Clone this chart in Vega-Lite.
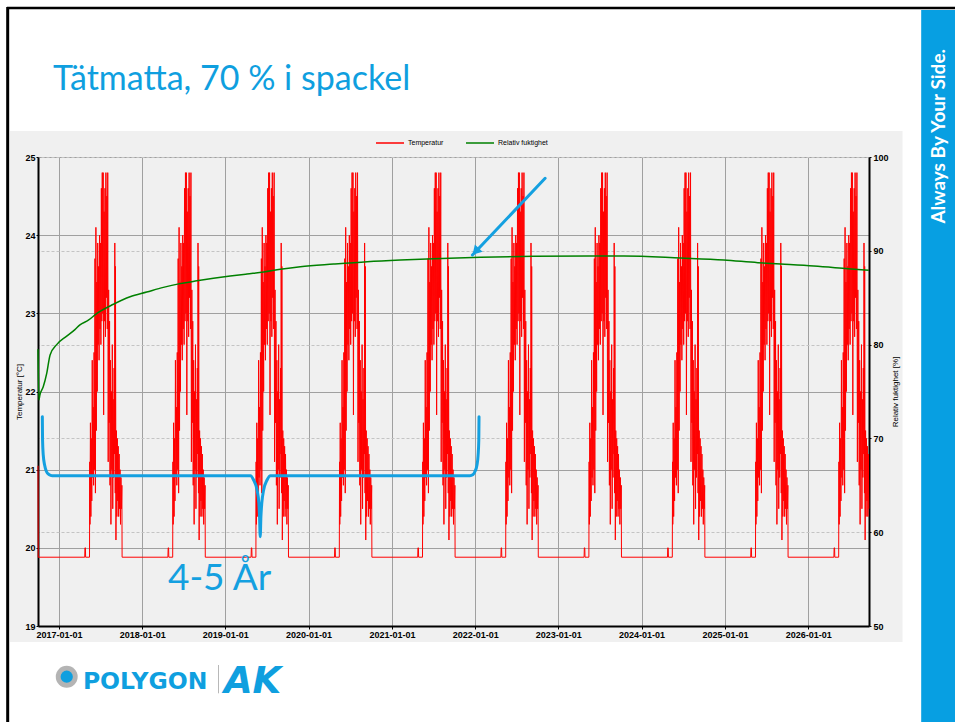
{
"$schema": "https://vega.github.io/schema/vega-lite/v6.json",
"width": 831,
"height": 469,
"autosize": {"type": "none"},
"padding": {"left": 38, "top": 157, "right": 86, "bottom": 96},
"background": "#f0f0f0",
"config": {"view": {"stroke": null}, "font": "Liberation Sans"},
"title": {"text": "Tätmatta, 70 % i spackel", "anchor": "start", "frame": "group", "font": "Lato", "fontSize": 34, "fontWeight": "normal", "color": "#0f9fdf", "baseline": "alphabetic", "offset": 0, "dx": 15, "dy": 124},
"datasets": {
"temp": [
{"d":"2016-10-01","t":21.05},{"d":"2016-10-02","t":19.88},
{"d":"2017-04-24","t":19.88},{"d":"2017-04-25","t":20.0},{"d":"2017-04-27","t":20.0},{"d":"2017-04-28","t":19.88},{"d":"2017-05-15","t":19.88},{"d":"2017-05-16","t":21.1},{"d":"2017-05-17","t":20.3},{"d":"2017-05-19","t":21.6},{"d":"2017-05-21","t":20.4},{"d":"2017-05-23","t":21.4},{"d":"2017-05-25","t":20.6},{"d":"2017-05-27","t":22.4},{"d":"2017-05-29","t":20.9},{"d":"2017-05-31","t":21.8},{"d":"2017-06-02","t":20.8},{"d":"2017-06-04","t":22.5},{"d":"2017-06-06","t":21.0},{"d":"2017-06-08","t":23.7},{"d":"2017-06-10","t":20.7},{"d":"2017-06-12","t":24.1},{"d":"2017-06-14","t":21.5},{"d":"2017-06-16","t":23.4},{"d":"2017-06-18","t":22.0},{"d":"2017-06-20","t":23.9},{"d":"2017-06-22","t":22.6},{"d":"2017-06-24","t":23.6},{"d":"2017-06-26","t":22.4},{"d":"2017-06-28","t":24.0},{"d":"2017-06-30","t":22.8},{"d":"2017-07-02","t":23.9},{"d":"2017-07-04","t":22.6},{"d":"2017-07-06","t":24.6},{"d":"2017-07-08","t":22.9},{"d":"2017-07-10","t":24.8},{"d":"2017-07-12","t":23.0},{"d":"2017-07-14","t":24.8},{"d":"2017-07-16","t":21.7},{"d":"2017-07-18","t":24.3},{"d":"2017-07-20","t":22.9},{"d":"2017-07-22","t":24.6},{"d":"2017-07-24","t":22.7},{"d":"2017-07-26","t":24.8},{"d":"2017-07-28","t":23.2},{"d":"2017-07-30","t":24.5},{"d":"2017-08-01","t":22.8},{"d":"2017-08-03","t":24.8},{"d":"2017-08-05","t":21.1},{"d":"2017-08-07","t":23.3},{"d":"2017-08-09","t":21.6},{"d":"2017-08-11","t":22.9},{"d":"2017-08-13","t":20.8},{"d":"2017-08-15","t":22.4},{"d":"2017-08-17","t":20.3},{"d":"2017-08-19","t":22.0},{"d":"2017-08-21","t":21.0},{"d":"2017-08-23","t":22.6},{"d":"2017-08-25","t":20.5},{"d":"2017-08-27","t":21.9},{"d":"2017-08-29","t":20.9},{"d":"2017-08-31","t":22.3},{"d":"2017-09-02","t":21.2},{"d":"2017-09-03","t":23.9},{"d":"2017-09-05","t":20.7},{"d":"2017-09-06","t":23.6},{"d":"2017-09-08","t":20.1},{"d":"2017-09-10","t":21.5},{"d":"2017-09-12","t":20.4},{"d":"2017-09-14","t":21.4},{"d":"2017-09-16","t":20.6},{"d":"2017-09-18","t":21.3},{"d":"2017-09-20","t":20.4},{"d":"2017-09-22","t":21.2},{"d":"2017-09-24","t":20.5},{"d":"2017-09-26","t":21.0},{"d":"2017-09-28","t":20.3},{"d":"2017-09-30","t":20.9},{"d":"2017-10-02","t":20.5},{"d":"2017-10-04","t":20.8},{"d":"2017-10-05","t":19.88},
{"d":"2018-04-24","t":19.88},{"d":"2018-04-25","t":20.0},{"d":"2018-04-27","t":20.0},{"d":"2018-04-28","t":19.88},{"d":"2018-05-15","t":19.88},{"d":"2018-05-16","t":21.1},{"d":"2018-05-17","t":20.3},{"d":"2018-05-19","t":21.6},{"d":"2018-05-21","t":20.4},{"d":"2018-05-23","t":21.4},{"d":"2018-05-25","t":20.6},{"d":"2018-05-27","t":22.4},{"d":"2018-05-29","t":20.9},{"d":"2018-05-31","t":21.8},{"d":"2018-06-02","t":20.8},{"d":"2018-06-04","t":22.5},{"d":"2018-06-06","t":21.0},{"d":"2018-06-08","t":23.7},{"d":"2018-06-10","t":20.7},{"d":"2018-06-12","t":24.1},{"d":"2018-06-14","t":21.5},{"d":"2018-06-16","t":23.4},{"d":"2018-06-18","t":22.0},{"d":"2018-06-20","t":23.9},{"d":"2018-06-22","t":22.6},{"d":"2018-06-24","t":23.6},{"d":"2018-06-26","t":22.4},{"d":"2018-06-28","t":24.0},{"d":"2018-06-30","t":22.8},{"d":"2018-07-02","t":23.9},{"d":"2018-07-04","t":22.6},{"d":"2018-07-06","t":24.6},{"d":"2018-07-08","t":22.9},{"d":"2018-07-10","t":24.8},{"d":"2018-07-12","t":23.0},{"d":"2018-07-14","t":24.8},{"d":"2018-07-16","t":21.7},{"d":"2018-07-18","t":24.3},{"d":"2018-07-20","t":22.9},{"d":"2018-07-22","t":24.6},{"d":"2018-07-24","t":22.7},{"d":"2018-07-26","t":24.8},{"d":"2018-07-28","t":23.2},{"d":"2018-07-30","t":24.5},{"d":"2018-08-01","t":22.8},{"d":"2018-08-03","t":24.8},{"d":"2018-08-05","t":21.1},{"d":"2018-08-07","t":23.3},{"d":"2018-08-09","t":21.6},{"d":"2018-08-11","t":22.9},{"d":"2018-08-13","t":20.8},{"d":"2018-08-15","t":22.4},{"d":"2018-08-17","t":20.3},{"d":"2018-08-19","t":22.0},{"d":"2018-08-21","t":21.0},{"d":"2018-08-23","t":22.6},{"d":"2018-08-25","t":20.5},{"d":"2018-08-27","t":21.9},{"d":"2018-08-29","t":20.9},{"d":"2018-08-31","t":22.3},{"d":"2018-09-02","t":21.2},{"d":"2018-09-03","t":23.9},{"d":"2018-09-05","t":20.7},{"d":"2018-09-06","t":23.6},{"d":"2018-09-08","t":20.1},{"d":"2018-09-10","t":21.5},{"d":"2018-09-12","t":20.4},{"d":"2018-09-14","t":21.4},{"d":"2018-09-16","t":20.6},{"d":"2018-09-18","t":21.3},{"d":"2018-09-20","t":20.4},{"d":"2018-09-22","t":21.2},{"d":"2018-09-24","t":20.5},{"d":"2018-09-26","t":21.0},{"d":"2018-09-28","t":20.3},{"d":"2018-09-30","t":20.9},{"d":"2018-10-02","t":20.5},{"d":"2018-10-04","t":20.8},{"d":"2018-10-05","t":19.88},
{"d":"2019-04-24","t":19.88},{"d":"2019-04-25","t":20.0},{"d":"2019-04-27","t":20.0},{"d":"2019-04-28","t":19.88},{"d":"2019-05-15","t":19.88},{"d":"2019-05-16","t":21.1},{"d":"2019-05-17","t":20.3},{"d":"2019-05-19","t":21.6},{"d":"2019-05-21","t":20.4},{"d":"2019-05-23","t":21.4},{"d":"2019-05-25","t":20.6},{"d":"2019-05-27","t":22.4},{"d":"2019-05-29","t":20.9},{"d":"2019-05-31","t":21.8},{"d":"2019-06-02","t":20.8},{"d":"2019-06-04","t":22.5},{"d":"2019-06-06","t":21.0},{"d":"2019-06-08","t":23.7},{"d":"2019-06-10","t":20.7},{"d":"2019-06-12","t":24.1},{"d":"2019-06-14","t":21.5},{"d":"2019-06-16","t":23.4},{"d":"2019-06-18","t":22.0},{"d":"2019-06-20","t":23.9},{"d":"2019-06-22","t":22.6},{"d":"2019-06-24","t":23.6},{"d":"2019-06-26","t":22.4},{"d":"2019-06-28","t":24.0},{"d":"2019-06-30","t":22.8},{"d":"2019-07-02","t":23.9},{"d":"2019-07-04","t":22.6},{"d":"2019-07-06","t":24.6},{"d":"2019-07-08","t":22.9},{"d":"2019-07-10","t":24.8},{"d":"2019-07-12","t":23.0},{"d":"2019-07-14","t":24.8},{"d":"2019-07-16","t":21.7},{"d":"2019-07-18","t":24.3},{"d":"2019-07-20","t":22.9},{"d":"2019-07-22","t":24.6},{"d":"2019-07-24","t":22.7},{"d":"2019-07-26","t":24.8},{"d":"2019-07-28","t":23.2},{"d":"2019-07-30","t":24.5},{"d":"2019-08-01","t":22.8},{"d":"2019-08-03","t":24.8},{"d":"2019-08-05","t":21.1},{"d":"2019-08-07","t":23.3},{"d":"2019-08-09","t":21.6},{"d":"2019-08-11","t":22.9},{"d":"2019-08-13","t":20.8},{"d":"2019-08-15","t":22.4},{"d":"2019-08-17","t":20.3},{"d":"2019-08-19","t":22.0},{"d":"2019-08-21","t":21.0},{"d":"2019-08-23","t":22.6},{"d":"2019-08-25","t":20.5},{"d":"2019-08-27","t":21.9},{"d":"2019-08-29","t":20.9},{"d":"2019-08-31","t":22.3},{"d":"2019-09-02","t":21.2},{"d":"2019-09-03","t":23.9},{"d":"2019-09-05","t":20.7},{"d":"2019-09-06","t":23.6},{"d":"2019-09-08","t":20.1},{"d":"2019-09-10","t":21.5},{"d":"2019-09-12","t":20.4},{"d":"2019-09-14","t":21.4},{"d":"2019-09-16","t":20.6},{"d":"2019-09-18","t":21.3},{"d":"2019-09-20","t":20.4},{"d":"2019-09-22","t":21.2},{"d":"2019-09-24","t":20.5},{"d":"2019-09-26","t":21.0},{"d":"2019-09-28","t":20.3},{"d":"2019-09-30","t":20.9},{"d":"2019-10-02","t":20.5},{"d":"2019-10-04","t":20.8},{"d":"2019-10-05","t":19.88},
{"d":"2020-04-24","t":19.88},{"d":"2020-04-25","t":20.0},{"d":"2020-04-27","t":20.0},{"d":"2020-04-28","t":19.88},{"d":"2020-05-15","t":19.88},{"d":"2020-05-16","t":21.1},{"d":"2020-05-17","t":20.3},{"d":"2020-05-19","t":21.6},{"d":"2020-05-21","t":20.4},{"d":"2020-05-23","t":21.4},{"d":"2020-05-25","t":20.6},{"d":"2020-05-27","t":22.4},{"d":"2020-05-29","t":20.9},{"d":"2020-05-31","t":21.8},{"d":"2020-06-02","t":20.8},{"d":"2020-06-04","t":22.5},{"d":"2020-06-06","t":21.0},{"d":"2020-06-08","t":23.7},{"d":"2020-06-10","t":20.7},{"d":"2020-06-12","t":24.1},{"d":"2020-06-14","t":21.5},{"d":"2020-06-16","t":23.4},{"d":"2020-06-18","t":22.0},{"d":"2020-06-20","t":23.9},{"d":"2020-06-22","t":22.6},{"d":"2020-06-24","t":23.6},{"d":"2020-06-26","t":22.4},{"d":"2020-06-28","t":24.0},{"d":"2020-06-30","t":22.8},{"d":"2020-07-02","t":23.9},{"d":"2020-07-04","t":22.6},{"d":"2020-07-06","t":24.6},{"d":"2020-07-08","t":22.9},{"d":"2020-07-10","t":24.8},{"d":"2020-07-12","t":23.0},{"d":"2020-07-14","t":24.8},{"d":"2020-07-16","t":21.7},{"d":"2020-07-18","t":24.3},{"d":"2020-07-20","t":22.9},{"d":"2020-07-22","t":24.6},{"d":"2020-07-24","t":22.7},{"d":"2020-07-26","t":24.8},{"d":"2020-07-28","t":23.2},{"d":"2020-07-30","t":24.5},{"d":"2020-08-01","t":22.8},{"d":"2020-08-03","t":24.8},{"d":"2020-08-05","t":21.1},{"d":"2020-08-07","t":23.3},{"d":"2020-08-09","t":21.6},{"d":"2020-08-11","t":22.9},{"d":"2020-08-13","t":20.8},{"d":"2020-08-15","t":22.4},{"d":"2020-08-17","t":20.3},{"d":"2020-08-19","t":22.0},{"d":"2020-08-21","t":21.0},{"d":"2020-08-23","t":22.6},{"d":"2020-08-25","t":20.5},{"d":"2020-08-27","t":21.9},{"d":"2020-08-29","t":20.9},{"d":"2020-08-31","t":22.3},{"d":"2020-09-02","t":21.2},{"d":"2020-09-03","t":23.9},{"d":"2020-09-05","t":20.7},{"d":"2020-09-06","t":23.6},{"d":"2020-09-08","t":20.1},{"d":"2020-09-10","t":21.5},{"d":"2020-09-12","t":20.4},{"d":"2020-09-14","t":21.4},{"d":"2020-09-16","t":20.6},{"d":"2020-09-18","t":21.3},{"d":"2020-09-20","t":20.4},{"d":"2020-09-22","t":21.2},{"d":"2020-09-24","t":20.5},{"d":"2020-09-26","t":21.0},{"d":"2020-09-28","t":20.3},{"d":"2020-09-30","t":20.9},{"d":"2020-10-02","t":20.5},{"d":"2020-10-04","t":20.8},{"d":"2020-10-05","t":19.88},
{"d":"2021-04-24","t":19.88},{"d":"2021-04-25","t":20.0},{"d":"2021-04-27","t":20.0},{"d":"2021-04-28","t":19.88},{"d":"2021-05-15","t":19.88},{"d":"2021-05-16","t":21.1},{"d":"2021-05-17","t":20.3},{"d":"2021-05-19","t":21.6},{"d":"2021-05-21","t":20.4},{"d":"2021-05-23","t":21.4},{"d":"2021-05-25","t":20.6},{"d":"2021-05-27","t":22.4},{"d":"2021-05-29","t":20.9},{"d":"2021-05-31","t":21.8},{"d":"2021-06-02","t":20.8},{"d":"2021-06-04","t":22.5},{"d":"2021-06-06","t":21.0},{"d":"2021-06-08","t":23.7},{"d":"2021-06-10","t":20.7},{"d":"2021-06-12","t":24.1},{"d":"2021-06-14","t":21.5},{"d":"2021-06-16","t":23.4},{"d":"2021-06-18","t":22.0},{"d":"2021-06-20","t":23.9},{"d":"2021-06-22","t":22.6},{"d":"2021-06-24","t":23.6},{"d":"2021-06-26","t":22.4},{"d":"2021-06-28","t":24.0},{"d":"2021-06-30","t":22.8},{"d":"2021-07-02","t":23.9},{"d":"2021-07-04","t":22.6},{"d":"2021-07-06","t":24.6},{"d":"2021-07-08","t":22.9},{"d":"2021-07-10","t":24.8},{"d":"2021-07-12","t":23.0},{"d":"2021-07-14","t":24.8},{"d":"2021-07-16","t":21.7},{"d":"2021-07-18","t":24.3},{"d":"2021-07-20","t":22.9},{"d":"2021-07-22","t":24.6},{"d":"2021-07-24","t":22.7},{"d":"2021-07-26","t":24.8},{"d":"2021-07-28","t":23.2},{"d":"2021-07-30","t":24.5},{"d":"2021-08-01","t":22.8},{"d":"2021-08-03","t":24.8},{"d":"2021-08-05","t":21.1},{"d":"2021-08-07","t":23.3},{"d":"2021-08-09","t":21.6},{"d":"2021-08-11","t":22.9},{"d":"2021-08-13","t":20.8},{"d":"2021-08-15","t":22.4},{"d":"2021-08-17","t":20.3},{"d":"2021-08-19","t":22.0},{"d":"2021-08-21","t":21.0},{"d":"2021-08-23","t":22.6},{"d":"2021-08-25","t":20.5},{"d":"2021-08-27","t":21.9},{"d":"2021-08-29","t":20.9},{"d":"2021-08-31","t":22.3},{"d":"2021-09-02","t":21.2},{"d":"2021-09-03","t":23.9},{"d":"2021-09-05","t":20.7},{"d":"2021-09-06","t":23.6},{"d":"2021-09-08","t":20.1},{"d":"2021-09-10","t":21.5},{"d":"2021-09-12","t":20.4},{"d":"2021-09-14","t":21.4},{"d":"2021-09-16","t":20.6},{"d":"2021-09-18","t":21.3},{"d":"2021-09-20","t":20.4},{"d":"2021-09-22","t":21.2},{"d":"2021-09-24","t":20.5},{"d":"2021-09-26","t":21.0},{"d":"2021-09-28","t":20.3},{"d":"2021-09-30","t":20.9},{"d":"2021-10-02","t":20.5},{"d":"2021-10-04","t":20.8},{"d":"2021-10-05","t":19.88},
{"d":"2022-04-24","t":19.88},{"d":"2022-04-25","t":20.0},{"d":"2022-04-27","t":20.0},{"d":"2022-04-28","t":19.88},{"d":"2022-05-15","t":19.88},{"d":"2022-05-16","t":21.1},{"d":"2022-05-17","t":20.3},{"d":"2022-05-19","t":21.6},{"d":"2022-05-21","t":20.4},{"d":"2022-05-23","t":21.4},{"d":"2022-05-25","t":20.6},{"d":"2022-05-27","t":22.4},{"d":"2022-05-29","t":20.9},{"d":"2022-05-31","t":21.8},{"d":"2022-06-02","t":20.8},{"d":"2022-06-04","t":22.5},{"d":"2022-06-06","t":21.0},{"d":"2022-06-08","t":23.7},{"d":"2022-06-10","t":20.7},{"d":"2022-06-12","t":24.1},{"d":"2022-06-14","t":21.5},{"d":"2022-06-16","t":23.4},{"d":"2022-06-18","t":22.0},{"d":"2022-06-20","t":23.9},{"d":"2022-06-22","t":22.6},{"d":"2022-06-24","t":23.6},{"d":"2022-06-26","t":22.4},{"d":"2022-06-28","t":24.0},{"d":"2022-06-30","t":22.8},{"d":"2022-07-02","t":23.9},{"d":"2022-07-04","t":22.6},{"d":"2022-07-06","t":24.6},{"d":"2022-07-08","t":22.9},{"d":"2022-07-10","t":24.8},{"d":"2022-07-12","t":23.0},{"d":"2022-07-14","t":24.8},{"d":"2022-07-16","t":21.7},{"d":"2022-07-18","t":24.3},{"d":"2022-07-20","t":22.9},{"d":"2022-07-22","t":24.6},{"d":"2022-07-24","t":22.7},{"d":"2022-07-26","t":24.8},{"d":"2022-07-28","t":23.2},{"d":"2022-07-30","t":24.5},{"d":"2022-08-01","t":22.8},{"d":"2022-08-03","t":24.8},{"d":"2022-08-05","t":21.1},{"d":"2022-08-07","t":23.3},{"d":"2022-08-09","t":21.6},{"d":"2022-08-11","t":22.9},{"d":"2022-08-13","t":20.8},{"d":"2022-08-15","t":22.4},{"d":"2022-08-17","t":20.3},{"d":"2022-08-19","t":22.0},{"d":"2022-08-21","t":21.0},{"d":"2022-08-23","t":22.6},{"d":"2022-08-25","t":20.5},{"d":"2022-08-27","t":21.9},{"d":"2022-08-29","t":20.9},{"d":"2022-08-31","t":22.3},{"d":"2022-09-02","t":21.2},{"d":"2022-09-03","t":23.9},{"d":"2022-09-05","t":20.7},{"d":"2022-09-06","t":23.6},{"d":"2022-09-08","t":20.1},{"d":"2022-09-10","t":21.5},{"d":"2022-09-12","t":20.4},{"d":"2022-09-14","t":21.4},{"d":"2022-09-16","t":20.6},{"d":"2022-09-18","t":21.3},{"d":"2022-09-20","t":20.4},{"d":"2022-09-22","t":21.2},{"d":"2022-09-24","t":20.5},{"d":"2022-09-26","t":21.0},{"d":"2022-09-28","t":20.3},{"d":"2022-09-30","t":20.9},{"d":"2022-10-02","t":20.5},{"d":"2022-10-04","t":20.8},{"d":"2022-10-05","t":19.88},
{"d":"2023-04-24","t":19.88},{"d":"2023-04-25","t":20.0},{"d":"2023-04-27","t":20.0},{"d":"2023-04-28","t":19.88},{"d":"2023-05-15","t":19.88},{"d":"2023-05-16","t":21.1},{"d":"2023-05-17","t":20.3},{"d":"2023-05-19","t":21.6},{"d":"2023-05-21","t":20.4},{"d":"2023-05-23","t":21.4},{"d":"2023-05-25","t":20.6},{"d":"2023-05-27","t":22.4},{"d":"2023-05-29","t":20.9},{"d":"2023-05-31","t":21.8},{"d":"2023-06-02","t":20.8},{"d":"2023-06-04","t":22.5},{"d":"2023-06-06","t":21.0},{"d":"2023-06-08","t":23.7},{"d":"2023-06-10","t":20.7},{"d":"2023-06-12","t":24.1},{"d":"2023-06-14","t":21.5},{"d":"2023-06-16","t":23.4},{"d":"2023-06-18","t":22.0},{"d":"2023-06-20","t":23.9},{"d":"2023-06-22","t":22.6},{"d":"2023-06-24","t":23.6},{"d":"2023-06-26","t":22.4},{"d":"2023-06-28","t":24.0},{"d":"2023-06-30","t":22.8},{"d":"2023-07-02","t":23.9},{"d":"2023-07-04","t":22.6},{"d":"2023-07-06","t":24.6},{"d":"2023-07-08","t":22.9},{"d":"2023-07-10","t":24.8},{"d":"2023-07-12","t":23.0},{"d":"2023-07-14","t":24.8},{"d":"2023-07-16","t":21.7},{"d":"2023-07-18","t":24.3},{"d":"2023-07-20","t":22.9},{"d":"2023-07-22","t":24.6},{"d":"2023-07-24","t":22.7},{"d":"2023-07-26","t":24.8},{"d":"2023-07-28","t":23.2},{"d":"2023-07-30","t":24.5},{"d":"2023-08-01","t":22.8},{"d":"2023-08-03","t":24.8},{"d":"2023-08-05","t":21.1},{"d":"2023-08-07","t":23.3},{"d":"2023-08-09","t":21.6},{"d":"2023-08-11","t":22.9},{"d":"2023-08-13","t":20.8},{"d":"2023-08-15","t":22.4},{"d":"2023-08-17","t":20.3},{"d":"2023-08-19","t":22.0},{"d":"2023-08-21","t":21.0},{"d":"2023-08-23","t":22.6},{"d":"2023-08-25","t":20.5},{"d":"2023-08-27","t":21.9},{"d":"2023-08-29","t":20.9},{"d":"2023-08-31","t":22.3},{"d":"2023-09-02","t":21.2},{"d":"2023-09-03","t":23.9},{"d":"2023-09-05","t":20.7},{"d":"2023-09-06","t":23.6},{"d":"2023-09-08","t":20.1},{"d":"2023-09-10","t":21.5},{"d":"2023-09-12","t":20.4},{"d":"2023-09-14","t":21.4},{"d":"2023-09-16","t":20.6},{"d":"2023-09-18","t":21.3},{"d":"2023-09-20","t":20.4},{"d":"2023-09-22","t":21.2},{"d":"2023-09-24","t":20.5},{"d":"2023-09-26","t":21.0},{"d":"2023-09-28","t":20.3},{"d":"2023-09-30","t":20.9},{"d":"2023-10-02","t":20.5},{"d":"2023-10-04","t":20.8},{"d":"2023-10-05","t":19.88},
{"d":"2024-04-24","t":19.88},{"d":"2024-04-25","t":20.0},{"d":"2024-04-27","t":20.0},{"d":"2024-04-28","t":19.88},{"d":"2024-05-15","t":19.88},{"d":"2024-05-16","t":21.1},{"d":"2024-05-17","t":20.3},{"d":"2024-05-19","t":21.6},{"d":"2024-05-21","t":20.4},{"d":"2024-05-23","t":21.4},{"d":"2024-05-25","t":20.6},{"d":"2024-05-27","t":22.4},{"d":"2024-05-29","t":20.9},{"d":"2024-05-31","t":21.8},{"d":"2024-06-02","t":20.8},{"d":"2024-06-04","t":22.5},{"d":"2024-06-06","t":21.0},{"d":"2024-06-08","t":23.7},{"d":"2024-06-10","t":20.7},{"d":"2024-06-12","t":24.1},{"d":"2024-06-14","t":21.5},{"d":"2024-06-16","t":23.4},{"d":"2024-06-18","t":22.0},{"d":"2024-06-20","t":23.9},{"d":"2024-06-22","t":22.6},{"d":"2024-06-24","t":23.6},{"d":"2024-06-26","t":22.4},{"d":"2024-06-28","t":24.0},{"d":"2024-06-30","t":22.8},{"d":"2024-07-02","t":23.9},{"d":"2024-07-04","t":22.6},{"d":"2024-07-06","t":24.6},{"d":"2024-07-08","t":22.9},{"d":"2024-07-10","t":24.8},{"d":"2024-07-12","t":23.0},{"d":"2024-07-14","t":24.8},{"d":"2024-07-16","t":21.7},{"d":"2024-07-18","t":24.3},{"d":"2024-07-20","t":22.9},{"d":"2024-07-22","t":24.6},{"d":"2024-07-24","t":22.7},{"d":"2024-07-26","t":24.8},{"d":"2024-07-28","t":23.2},{"d":"2024-07-30","t":24.5},{"d":"2024-08-01","t":22.8},{"d":"2024-08-03","t":24.8},{"d":"2024-08-05","t":21.1},{"d":"2024-08-07","t":23.3},{"d":"2024-08-09","t":21.6},{"d":"2024-08-11","t":22.9},{"d":"2024-08-13","t":20.8},{"d":"2024-08-15","t":22.4},{"d":"2024-08-17","t":20.3},{"d":"2024-08-19","t":22.0},{"d":"2024-08-21","t":21.0},{"d":"2024-08-23","t":22.6},{"d":"2024-08-25","t":20.5},{"d":"2024-08-27","t":21.9},{"d":"2024-08-29","t":20.9},{"d":"2024-08-31","t":22.3},{"d":"2024-09-02","t":21.2},{"d":"2024-09-03","t":23.9},{"d":"2024-09-05","t":20.7},{"d":"2024-09-06","t":23.6},{"d":"2024-09-08","t":20.1},{"d":"2024-09-10","t":21.5},{"d":"2024-09-12","t":20.4},{"d":"2024-09-14","t":21.4},{"d":"2024-09-16","t":20.6},{"d":"2024-09-18","t":21.3},{"d":"2024-09-20","t":20.4},{"d":"2024-09-22","t":21.2},{"d":"2024-09-24","t":20.5},{"d":"2024-09-26","t":21.0},{"d":"2024-09-28","t":20.3},{"d":"2024-09-30","t":20.9},{"d":"2024-10-02","t":20.5},{"d":"2024-10-04","t":20.8},{"d":"2024-10-05","t":19.88},
{"d":"2025-04-24","t":19.88},{"d":"2025-04-25","t":20.0},{"d":"2025-04-27","t":20.0},{"d":"2025-04-28","t":19.88},{"d":"2025-05-15","t":19.88},{"d":"2025-05-16","t":21.1},{"d":"2025-05-17","t":20.3},{"d":"2025-05-19","t":21.6},{"d":"2025-05-21","t":20.4},{"d":"2025-05-23","t":21.4},{"d":"2025-05-25","t":20.6},{"d":"2025-05-27","t":22.4},{"d":"2025-05-29","t":20.9},{"d":"2025-05-31","t":21.8},{"d":"2025-06-02","t":20.8},{"d":"2025-06-04","t":22.5},{"d":"2025-06-06","t":21.0},{"d":"2025-06-08","t":23.7},{"d":"2025-06-10","t":20.7},{"d":"2025-06-12","t":24.1},{"d":"2025-06-14","t":21.5},{"d":"2025-06-16","t":23.4},{"d":"2025-06-18","t":22.0},{"d":"2025-06-20","t":23.9},{"d":"2025-06-22","t":22.6},{"d":"2025-06-24","t":23.6},{"d":"2025-06-26","t":22.4},{"d":"2025-06-28","t":24.0},{"d":"2025-06-30","t":22.8},{"d":"2025-07-02","t":23.9},{"d":"2025-07-04","t":22.6},{"d":"2025-07-06","t":24.6},{"d":"2025-07-08","t":22.9},{"d":"2025-07-10","t":24.8},{"d":"2025-07-12","t":23.0},{"d":"2025-07-14","t":24.8},{"d":"2025-07-16","t":21.7},{"d":"2025-07-18","t":24.3},{"d":"2025-07-20","t":22.9},{"d":"2025-07-22","t":24.6},{"d":"2025-07-24","t":22.7},{"d":"2025-07-26","t":24.8},{"d":"2025-07-28","t":23.2},{"d":"2025-07-30","t":24.5},{"d":"2025-08-01","t":22.8},{"d":"2025-08-03","t":24.8},{"d":"2025-08-05","t":21.1},{"d":"2025-08-07","t":23.3},{"d":"2025-08-09","t":21.6},{"d":"2025-08-11","t":22.9},{"d":"2025-08-13","t":20.8},{"d":"2025-08-15","t":22.4},{"d":"2025-08-17","t":20.3},{"d":"2025-08-19","t":22.0},{"d":"2025-08-21","t":21.0},{"d":"2025-08-23","t":22.6},{"d":"2025-08-25","t":20.5},{"d":"2025-08-27","t":21.9},{"d":"2025-08-29","t":20.9},{"d":"2025-08-31","t":22.3},{"d":"2025-09-02","t":21.2},{"d":"2025-09-03","t":23.9},{"d":"2025-09-05","t":20.7},{"d":"2025-09-06","t":23.6},{"d":"2025-09-08","t":20.1},{"d":"2025-09-10","t":21.5},{"d":"2025-09-12","t":20.4},{"d":"2025-09-14","t":21.4},{"d":"2025-09-16","t":20.6},{"d":"2025-09-18","t":21.3},{"d":"2025-09-20","t":20.4},{"d":"2025-09-22","t":21.2},{"d":"2025-09-24","t":20.5},{"d":"2025-09-26","t":21.0},{"d":"2025-09-28","t":20.3},{"d":"2025-09-30","t":20.9},{"d":"2025-10-02","t":20.5},{"d":"2025-10-04","t":20.8},{"d":"2025-10-05","t":19.88},
{"d":"2026-04-24","t":19.88},{"d":"2026-04-25","t":20.0},{"d":"2026-04-27","t":20.0},{"d":"2026-04-28","t":19.88},{"d":"2026-05-15","t":19.88},{"d":"2026-05-16","t":21.1},{"d":"2026-05-17","t":20.3},{"d":"2026-05-19","t":21.6},{"d":"2026-05-21","t":20.4},{"d":"2026-05-23","t":21.4},{"d":"2026-05-25","t":20.6},{"d":"2026-05-27","t":22.4},{"d":"2026-05-29","t":20.9},{"d":"2026-05-31","t":21.8},{"d":"2026-06-02","t":20.8},{"d":"2026-06-04","t":22.5},{"d":"2026-06-06","t":21.0},{"d":"2026-06-08","t":23.7},{"d":"2026-06-10","t":20.7},{"d":"2026-06-12","t":24.1},{"d":"2026-06-14","t":21.5},{"d":"2026-06-16","t":23.4},{"d":"2026-06-18","t":22.0},{"d":"2026-06-20","t":23.9},{"d":"2026-06-22","t":22.6},{"d":"2026-06-24","t":23.6},{"d":"2026-06-26","t":22.4},{"d":"2026-06-28","t":24.0},{"d":"2026-06-30","t":22.8},{"d":"2026-07-02","t":23.9},{"d":"2026-07-04","t":22.6},{"d":"2026-07-06","t":24.6},{"d":"2026-07-08","t":22.9},{"d":"2026-07-10","t":24.8},{"d":"2026-07-12","t":23.0},{"d":"2026-07-14","t":24.8},{"d":"2026-07-16","t":21.7},{"d":"2026-07-18","t":24.3},{"d":"2026-07-20","t":22.9},{"d":"2026-07-22","t":24.6},{"d":"2026-07-24","t":22.7},{"d":"2026-07-26","t":24.8},{"d":"2026-07-28","t":23.2},{"d":"2026-07-30","t":24.5},{"d":"2026-08-01","t":22.8},{"d":"2026-08-03","t":24.8},{"d":"2026-08-05","t":21.1},{"d":"2026-08-07","t":23.3},{"d":"2026-08-09","t":21.6},{"d":"2026-08-11","t":22.9},{"d":"2026-08-13","t":20.8},{"d":"2026-08-15","t":22.4},{"d":"2026-08-17","t":20.3},{"d":"2026-08-19","t":22.0},{"d":"2026-08-21","t":21.0},{"d":"2026-08-23","t":22.6},{"d":"2026-08-25","t":20.5},{"d":"2026-08-27","t":21.9},{"d":"2026-08-29","t":20.9},{"d":"2026-08-31","t":22.3},{"d":"2026-09-02","t":21.2},{"d":"2026-09-03","t":23.9},{"d":"2026-09-05","t":20.7},{"d":"2026-09-06","t":23.6},{"d":"2026-09-08","t":20.1},{"d":"2026-09-10","t":21.5},{"d":"2026-09-12","t":20.4},{"d":"2026-09-14","t":21.4},{"d":"2026-09-16","t":20.6},{"d":"2026-09-18","t":21.3},{"d":"2026-09-20","t":20.4},{"d":"2026-09-22","t":21.2},{"d":"2026-09-24","t":20.5}
],
"rh": [
{"d":"2016-10-01","h":79.5},{"d":"2016-10-05","h":74.1},{"d":"2016-10-09","h":74.6},{"d":"2016-10-24","h":75.5},{"d":"2016-11-08","h":76.9},{"d":"2016-11-23","h":78.9},{"d":"2016-12-22","h":80.0},{"d":"2017-02-04","h":80.9},{"d":"2017-03-12","h":81.6},{"d":"2017-04-03","h":82.1},{"d":"2017-05-10","h":82.6},{"d":"2017-06-15","h":83.3},{"d":"2017-08-28","h":84.3},{"d":"2017-11-09","h":85.1},{"d":"2018-01-21","h":85.6},{"d":"2018-04-04","h":86.1},{"d":"2018-06-16","h":86.5},{"d":"2018-08-29","h":86.8},{"d":"2018-11-10","h":87.07},{"d":"2019-01-22","h":87.31},{"d":"2019-04-06","h":87.53},{"d":"2019-06-18","h":87.74},{"d":"2019-08-30","h":88.03},{"d":"2019-11-26","h":88.31},{"d":"2020-04-20","h":88.59},{"d":"2020-09-14","h":88.84},{"d":"2021-02-07","h":89.02},{"d":"2021-07-03","h":89.16},{"d":"2022-01-25","h":89.31},{"d":"2022-09-14","h":89.41},{"d":"2023-05-23","h":89.45},{"d":"2023-10-15","h":89.45},{"d":"2024-06-21","h":89.23},{"d":"2024-12-27","h":89.02},{"d":"2025-05-25","h":88.73},{"d":"2025-09-03","h":88.59},{"d":"2026-01-26","h":88.38},{"d":"2026-06-25","h":88.09},{"d":"2026-09-24","h":87.92}
],
"bracket": [
{"d":"2016-10-20","t":21.678},{"d":"2016-10-21","t":21.38},{"d":"2016-10-24","t":21.188},{"d":"2016-10-30","t":21.06},{"d":"2016-11-07","t":20.977},{"d":"2016-11-18","t":20.938},{"d":"2016-12-02","t":20.923},{"d":"2019-04-21","t":20.923},{"d":"2019-05-05","t":20.868},{"d":"2019-05-20","t":20.74},{"d":"2019-05-28","t":20.574},{"d":"2019-05-31","t":20.398},{"d":"2019-06-03","t":20.142},{"d":"2019-06-06","t":20.398},{"d":"2019-06-10","t":20.574},{"d":"2019-06-18","t":20.74},{"d":"2019-07-03","t":20.868},{"d":"2019-07-18","t":20.923},{"d":"2021-12-09","t":20.923},{"d":"2021-12-23","t":20.938},{"d":"2021-12-31","t":20.977},{"d":"2022-01-09","t":21.06},{"d":"2022-01-14","t":21.188},{"d":"2022-01-17","t":21.38},{"d":"2022-01-18","t":21.678}
],
"arrow": [{"d":"2022-11-04","t":24.728},{"d":"2021-12-20","t":23.746}],
"arrowhead": [{"d":"2022-01-03","t":23.791}]
},
"layer": [
{
"layer": [
{"data": {"values": [{}]}, "mark": {"type": "rect", "color": "#ffffff"},
 "encoding": {
  "x": {"datum": {"year": 2016, "month": 1, "date": 1}, "type": "temporal", "scale": {"domain": [{"year": 2016, "month": 10, "date": 1}, {"year": 2026, "month": 9, "date": 25}]}},
  "x2": {"datum": {"year": 2028, "month": 6, "date": 1}},
  "y": {"datum": 27.01, "type": "quantitative", "scale": {"domain": [19, 25], "nice": false, "zero": false}},
  "y2": {"datum": 25.333}}},
{"data": {"values": [{}]}, "mark": {"type": "rect", "color": "#ffffff"},
 "encoding": {
  "x": {"datum": {"year": 2016, "month": 1, "date": 1}, "type": "temporal"},
  "x2": {"datum": {"year": 2028, "month": 6, "date": 1}},
  "y": {"datum": 18.795, "type": "quantitative"},
  "y2": {"datum": 17.0}}},
{"data": {"values": [{}]}, "mark": {"type": "rect", "color": "#ffffff"},
 "encoding": {
  "x": {"datum": {"year": 2016, "month": 1, "date": 1}, "type": "temporal"},
  "x2": {"datum": {"year": 2016, "month": 5, "date": 31}},
  "y": {"datum": 25.34, "type": "quantitative"},
  "y2": {"datum": 18.79}}},
{"data": {"values": [{}]}, "mark": {"type": "rect", "color": "#ffffff"},
 "encoding": {
  "x": {"datum": {"year": 2027, "month": 2, "date": 19}, "type": "temporal"},
  "x2": {"datum": {"year": 2028, "month": 6, "date": 1}},
  "y": {"datum": 25.34, "type": "quantitative"},
  "y2": {"datum": 18.79}}},
{"data": {"values": [{}]}, "mark": {"type": "rect", "color": "#079fe2"},
 "encoding": {
  "x": {"datum": {"year": 2027, "month": 5, "date": 12}, "type": "temporal"},
  "x2": {"datum": {"year": 2028, "month": 6, "date": 1}},
  "y": {"datum": 26.88, "type": "quantitative"},
  "y2": {"datum": 17.0}}},
{"data": {"values": [{}]}, "mark": {"type": "rule", "color": "#000000", "strokeWidth": 2.5},
 "encoding": {
  "x": {"datum": {"year": 2016, "month": 5, "date": 18}, "type": "temporal"},
  "x2": {"datum": {"year": 2028, "month": 6, "date": 1}},
  "y": {"datum": 26.906, "type": "quantitative"}}},
{"data": {"values": [{}]}, "mark": {"type": "rule", "color": "#000000", "strokeWidth": 3},
 "encoding": {
  "x": {"datum": {"year": 2016, "month": 5, "date": 21}, "type": "temporal"},
  "y": {"datum": 26.92, "type": "quantitative"},
  "y2": {"datum": 17.0}}},
{"data": {"values": [{}]}, "mark": {"type": "text", "text": "Always By Your Side.", "font": "Lato", "fontSize": 19, "fontWeight": "bold", "color": "#ffffff", "angle": 270, "align": "center", "baseline": "alphabetic"},
 "encoding": {
  "x": {"datum": {"year": 2027, "month": 8, "date": 25}, "type": "temporal"},
  "y": {"datum": 25.265, "type": "quantitative"}}},
{"data": {"values": [{}]}, "mark": {"type": "point", "shape": "circle", "filled": true, "size": 480, "color": "#b4b4b4", "opacity": 1},
 "encoding": {
  "x": {"datum": {"year": 2017, "month": 2, "date": 4}, "type": "temporal"},
  "y": {"datum": 18.351, "type": "quantitative"}}},
{"data": {"values": [{}]}, "mark": {"type": "point", "shape": "circle", "filled": true, "size": 150, "color": "#0f9fdf", "opacity": 1},
 "encoding": {
  "x": {"datum": {"year": 2017, "month": 2, "date": 4}, "type": "temporal"},
  "y": {"datum": 18.351, "type": "quantitative"}}},
{"data": {"values": [{}]}, "mark": {"type": "text", "text": "POLYGON", "font": "DejaVu Sans", "fontSize": 23.5, "fontWeight": "bold", "color": "#0f9fdf", "align": "left", "baseline": "alphabetic"},
 "encoding": {
  "x": {"datum": {"year": 2017, "month": 4, "date": 16}, "type": "temporal"},
  "y": {"datum": 18.2, "type": "quantitative"}}},
{"data": {"values": [{}]}, "mark": {"type": "rule", "color": "#b8b8b8", "strokeWidth": 1},
 "encoding": {
  "x": {"datum": {"year": 2018, "month": 12, "date": 2}, "type": "temporal"},
  "y": {"datum": 18.501, "type": "quantitative"},
  "y2": {"datum": 18.139}}},
{"data": {"values": [{}]}, "mark": {"type": "text", "text": "AK", "font": "DejaVu Sans", "fontSize": 37, "fontWeight": "bold", "fontStyle": "italic", "color": "#0f9fdf", "align": "left", "baseline": "alphabetic"},
 "encoding": {
  "x": {"datum": {"year": 2018, "month": 12, "date": 26}, "type": "temporal"},
  "y": {"datum": 18.143, "type": "quantitative"}}},
{"data": {"name": "temp"}, "mark": {"type": "line", "strokeWidth": 1},
 "encoding": {
  "x": {"field": "d", "type": "temporal",
   "scale": {"domain": [{"year": 2016, "month": 10, "date": 1}, {"year": 2026, "month": 9, "date": 25}]},
   "axis": {"title": null, "format": "%Y-%m-%d", "tickCount": {"interval": "year", "step": 1}, "labelFont": "Liberation Sans", "labelFontSize": 9, "labelFontWeight": "bold", "labelColor": "#000000", "labelPadding": 1, "labelFlush": false, "labelOverlap": false, "labelAngle": 0, "tickSize": 3, "tickColor": "#000000", "domainColor": "#000000", "domainWidth": 2, "grid": true, "gridColor": "#a0a0a0", "gridWidth": 1}},
  "y": {"field": "t", "type": "quantitative",
   "scale": {"domain": [19, 25], "nice": false, "zero": false},
   "axis": {"orient": "left", "values": [19, 20, 21, 22, 23, 24, 25], "format": "d", "title": "Temperatur [°C]", "titleFont": "Liberation Sans", "titleFontSize": 8, "titleFontWeight": "normal", "titleColor": "#000000", "titleAngle": 270, "titleX": -19, "titleY": 234.5, "titleAlign": "center", "titleBaseline": "middle", "labelFont": "Liberation Sans", "labelFontSize": 9, "labelFontWeight": "bold", "labelColor": "#000000", "labelPadding": 1, "labelFlush": false, "labelOverlap": false, "tickSize": 2, "tickColor": "#000000", "domainColor": "#000000", "domainWidth": 2, "grid": true, "gridColor": "#a0a0a0", "gridWidth": 1}},
  "color": {"datum": "Temperatur", "type": "nominal",
   "scale": {"domain": ["Temperatur", "Relativ fuktighet"], "range": ["#ff0000", "#008000"]},
   "legend": {"orient": "none", "legendX": 337, "legendY": -29, "direction": "horizontal", "title": null, "symbolType": "stroke", "symbolSize": 784, "symbolStrokeWidth": 1.5, "labelFont": "Liberation Sans", "labelFontSize": 7, "labelColor": "#000000", "labelOffset": 3, "columnPadding": 19, "padding": 0}}}}
]
},
{"data": {"name": "rh"}, "mark": {"type": "line", "strokeWidth": 1.5, "interpolate": "monotone"},
 "encoding": {
  "x": {"field": "d", "type": "temporal"},
  "y": {"field": "h", "type": "quantitative",
   "scale": {"domain": [50, 100], "nice": false, "zero": false},
   "axis": {"orient": "right", "values": [50, 60, 70, 80, 90, 100], "format": "d", "title": "Relativ fuktighet [%]", "titleFont": "Liberation Sans", "titleFontSize": 8, "titleFontWeight": "normal", "titleColor": "#000000", "titleAngle": 270, "titleX": 26, "titleY": 234.5, "titleAlign": "center", "titleBaseline": "middle", "labelFont": "Liberation Sans", "labelFontSize": 9, "labelFontWeight": "bold", "labelColor": "#000000", "labelPadding": 2, "labelFlush": false, "labelOverlap": false, "tickSize": 2, "tickColor": "#000000", "domainColor": "#000000", "domainWidth": 2, "grid": true, "gridColor": "#c4c4c4", "gridDash": [3, 2], "gridWidth": 1}},
  "color": {"datum": "Relativ fuktighet", "type": "nominal",
   "scale": {"domain": ["Temperatur", "Relativ fuktighet"], "range": ["#ff0000", "#008000"]}}}},
{
"layer": [
{"data": {"name": "bracket"}, "mark": {"type": "line", "color": "#14a0e0", "strokeWidth": 3, "interpolate": "monotone", "strokeCap": "round"},
 "encoding": {
  "x": {"field": "d", "type": "temporal"},
  "y": {"field": "t", "type": "quantitative", "axis": null, "scale": {"domain": [19, 25], "nice": false, "zero": false}}}},
{"data": {"name": "arrow"}, "mark": {"type": "line", "color": "#14a0e0", "strokeWidth": 3, "strokeCap": "round"},
 "encoding": {
  "x": {"field": "d", "type": "temporal"},
  "y": {"field": "t", "type": "quantitative", "axis": null}}},
{"data": {"name": "arrowhead"}, "mark": {"type": "point", "shape": "triangle-up", "filled": true, "size": 110, "angle": 223, "color": "#14a0e0", "opacity": 1},
 "encoding": {
  "x": {"field": "d", "type": "temporal"},
  "y": {"field": "t", "type": "quantitative", "axis": null}}},
{"data": {"values": [{}]}, "mark": {"type": "text", "text": "4-5 År", "font": "Lato", "fontSize": 37, "color": "#14a0e0", "align": "left", "baseline": "alphabetic"},
 "encoding": {
  "x": {"datum": {"year": 2018, "month": 4, "date": 24}, "type": "temporal"},
  "y": {"datum": 19.46, "type": "quantitative", "axis": null}}}
]
}
],
"resolve": {"scale": {"y": "independent"}}
}
